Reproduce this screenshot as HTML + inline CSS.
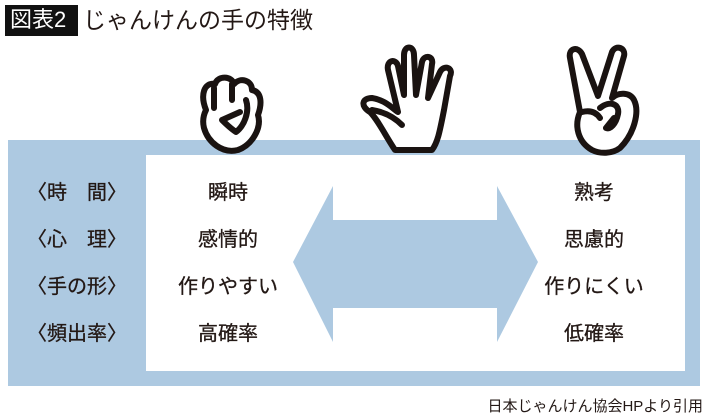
<!DOCTYPE html>
<html><head><meta charset="utf-8"><style>
html,body{margin:0;padding:0;background:#fff;}
body{width:710px;height:418px;position:relative;overflow:hidden;font-family:"Liberation Sans","Noto Sans CJK JP",sans-serif;color:#231815;}
.t{position:absolute;white-space:nowrap;}
.lab{position:absolute;font-size:20px;line-height:24px;text-align:center;-webkit-text-stroke:0.3px #231815;}
</style></head><body>
<div style="position:absolute;left:5px;top:5px;width:73px;height:31px;background:#111;"></div>
<div class="t" style="left:10px;top:5px;font-size:22px;line-height:30px;color:#fff;">図表2</div>
<div class="t" style="left:83px;top:5px;font-size:23px;line-height:30px;">じゃんけんの手の特徴</div>

<div style="position:absolute;left:8px;top:140px;width:692px;height:246px;background:#adc9e1;"></div>
<div style="position:absolute;left:146px;top:155px;width:539px;height:216px;background:#fff;"></div>

<svg style="position:absolute;left:0;top:0" width="710" height="418">
<polygon points="293,262 333,186 333,220 497,220 497,186 538,262 497,342 497,308 333,308 333,342" fill="#adc9e1"/>
<g fill="#fff" stroke="#1a1311" stroke-width="6" stroke-linejoin="round" stroke-linecap="round">
<path d="M206,110 C200,95 204,82 215,84 C218,75 232,76 234,84 C240,77 252,80 252,90 C262,92 262,104 258,115 C262,128 252,145 238,150 C222,154 208,142 204,128 C202,120 204,114 206,110 Z"/>
<path d="M214,108 L214,88 M232,100 L232,84 M246,100 C250,112 244,126 236,132 C230,128 226,124 222,120 L240,112" fill="none"/>
<path d="M395,150 C385,135 378,120 370,112 C360,106 362,98 372,98 C385,100 392,108 398,112 L388,70 C386,60 396,58 398,66 L404,95 L404,55 C404,45 414,45 414,55 L416,95 L422,62 C424,54 434,56 432,64 L428,98 L440,72 C444,64 454,68 450,76 L444,110 C440,130 438,142 432,150 Z"/>
<path d="M372,110 C385,112 395,118 402,125" fill="none"/>
<path d="M592,150 C578,142 574,126 580,112 L570,58 C568,48 578,46 582,54 L598,96 L612,52 C616,44 626,48 624,56 L612,98 C618,92 630,92 634,100 C640,112 634,134 620,148 C612,154 600,154 592,150 Z"/>
<path d="M600,108 C610,100 620,104 618,114 C616,124 610,130 606,128 L614,118 M582,112 C590,110 596,112 600,118" fill="none"/>
</g>
</svg>

<div class="lab" style="left:17px;top:181px;width:120px;">〈時　間〉</div>
<div class="lab" style="left:17px;top:228px;width:120px;">〈心　理〉</div>
<div class="lab" style="left:17px;top:275px;width:120px;">〈手の形〉</div>
<div class="lab" style="left:17px;top:322px;width:120px;">〈頻出率〉</div>

<div class="lab" style="left:158px;top:181px;width:140px;">瞬時</div>
<div class="lab" style="left:158px;top:228px;width:140px;">感情的</div>
<div class="lab" style="left:158px;top:275px;width:140px;">作りやすい</div>
<div class="lab" style="left:158px;top:322px;width:140px;">高確率</div>

<div class="lab" style="left:524px;top:181px;width:140px;">熟考</div>
<div class="lab" style="left:524px;top:228px;width:140px;">思慮的</div>
<div class="lab" style="left:524px;top:275px;width:140px;">作りにくい</div>
<div class="lab" style="left:524px;top:322px;width:140px;">低確率</div>

<div class="t" style="right:7px;top:397px;font-size:15px;line-height:19px;">日本じゃんけん協会HPより引用</div>
</body></html>
